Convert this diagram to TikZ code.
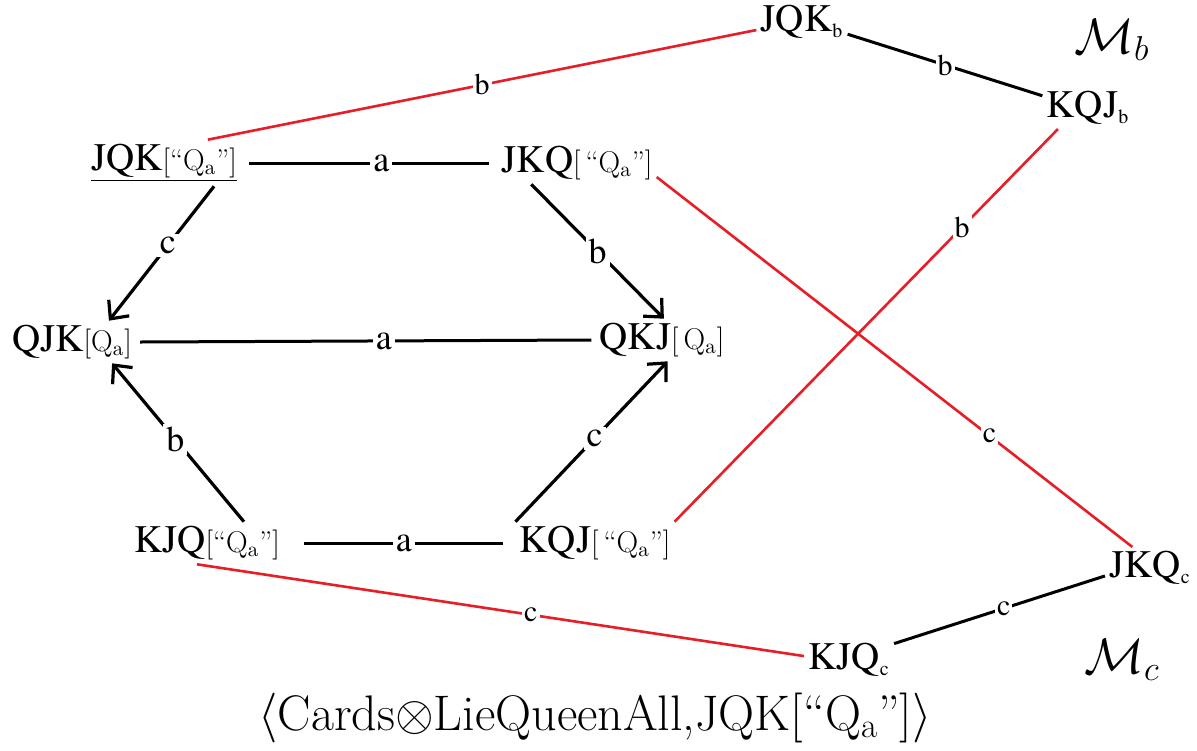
\documentclass[tikz,border=0pt]{standalone}
\usepackage{amsmath}
\usepackage{amssymb}
\usepackage{fontspec}
\usepackage{tikz}
\usetikzlibrary{arrows.meta}

\newfontfamily\tnr{texgyretermes-regular.otf}
\definecolor{redline}{RGB}{232,30,38}

% card order with its private state
\newcommand{\cardq}[2]{{\fontsize{19.5}{22}\selectfont\tnr #1}{\fontsize{15}{18}\selectfont[#2]}}
\newcommand{\qa}{Q$_{\mathrm{a}}$}
\newcommand{\cardm}[2]{{\fontsize{19.5}{22}\selectfont\tnr #1\textsubscript{\fontsize{10}{12}\selectfont #2}}}

\tikzset{
  card/.style={inner sep=2pt},
  link/.style={line width=1.5pt},
  redlink/.style={line width=1.3pt, draw=redline},
  move/.style={line width=1.6pt, -{Straight Barb[length=7pt,width=13pt]}},
  tag/.style={fill=white, inner sep=1.5pt, font=\tnr\fontsize{18}{20}\selectfont},
  rtag/.style={fill=white, inner sep=1pt, font=\tnr\fontsize{15}{17}\selectfont},
}

\begin{document}
\begin{tikzpicture}[x=0.5pt,y=0.5pt,yscale=-1,xscale=1]
\useasboundingbox[fill=white] (0,0) rectangle (1197,750);

% Text Node
\node[card] (n1) at (164,163) {\underline{\cardq{JQK}{“\qa”}}};
% Text Node
\node[card] (n2) at (577,163) {\cardq{JKQ}{\,“\qa”}};
% Text Node
\node[card] (n3) at (72,342) {\cardq{QJK}{\qa}};
% Text Node
\node[card] (n4) at (662,340) {\cardq{QKJ}{\,\qa}};
% Text Node
\node[card] (n5) at (207,543) {\cardq{KJQ}{“\qa”}};
% Text Node
\node[card] (n6) at (595,543) {\cardq{KQJ}{\,“\qa”}};
% Text Node
\node[card] (n7) at (802,22) {\cardm{JQK}{b}};
% Text Node
\node[card] (n8) at (1088,108) {\cardm{KQJ}{b}};
% Text Node
\node[card] (n9) at (1150,568) {\cardm{JKQ}{c}};
% Text Node
\node[card] (n10) at (849,660) {\cardm{KJQ}{c}};
% Text Node
\node (mb) at (1112,40) {\fontsize{25}{28}\selectfont$\mathcal{M}_b$};
% Text Node
\node (mc) at (1122,660) {\fontsize{25}{28}\selectfont$\mathcal{M}_c$};
% Text Node
\node (cap) at (595,718) {\fontsize{25}{28}\selectfont$\langle$Cards$\otimes$LieQueenAll,JQK[“\qa”]$\rangle$};

%Straight Lines
\draw[link] ([xshift=4]n1.east) -- node[tag,pos=.55] {a} ([xshift=-4]n2.west);
\draw[link] ([xshift=2]n3.east) -- node[tag,pos=.54] {a} ([xshift=-2]n4.west);
\draw[link] ([xshift=10]n5.east) -- node[tag] {a} ([xshift=-6]n6.west);
\draw[link] (n7.-15) -- node[rtag] {b} (n8.165);
\draw[link] (n9.190) -- node[rtag,pos=.48] {c} (n10.20);

%Arrows
\draw[move] (n1.-25) -- node[tag,pos=.44] {c} (n3.30);
\draw[move] (n2.-155) -- node[tag] {b} (n4.85);
\draw[move] (n5.30) -- node[tag,pos=.52] {b} (n3.-28);
\draw[move] (n6.165) -- node[tag,pos=.52] {c} (n4.-75);

%Red Lines
\draw[redlink] (n1.28) -- node[rtag] {b} (n7.190);
\draw[redlink] (n8.-145) -- node[rtag,pos=.25] {b} (n6.15);
\draw[redlink] (n2.-10) -- node[rtag,pos=.7] {c} (n9.130);
\draw[redlink] (n5.-115) -- node[rtag,pos=.55] {c} (n10.175);
\end{tikzpicture}
\end{document}
